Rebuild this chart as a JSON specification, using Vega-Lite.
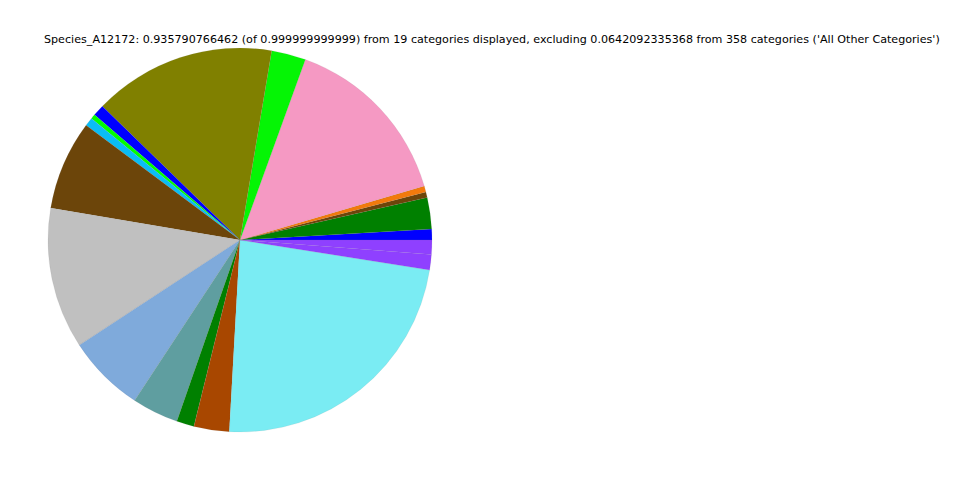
{
  "$schema": "https://vega.github.io/schema/vega-lite/v6.json",
  "width": 480,
  "height": 480,
  "autosize": {"type": "none"},
  "padding": {"left": 0, "top": 0, "right": 480, "bottom": 0},
  "background": "white",
  "title": {
    "text": "Species_A12172: 0.935790766462 (of 0.999999999999) from 19 categories displayed, excluding 0.0642092335368 from 358 categories ('All Other Categories')",
    "anchor": "start",
    "dx": 44,
    "offset": -56,
    "baseline": "bottom",
    "font": "DejaVu Sans",
    "fontSize": 11.13,
    "fontWeight": "normal",
    "color": "black"
  },
  "data": {
    "values": [
      {"idx": 1, "cat": "c01", "value": 0.00858},
      {"idx": 2, "cat": "c02", "value": 0.02469},
      {"idx": 3, "cat": "c03", "value": 0.00442},
      {"idx": 4, "cat": "c04", "value": 0.00468},
      {"idx": 5, "cat": "c05", "value": 0.13985},
      {"idx": 6, "cat": "c06", "value": 0.02703},
      {"idx": 7, "cat": "c07", "value": 0.14375},
      {"idx": 8, "cat": "c08", "value": 0.00910},
      {"idx": 9, "cat": "c09", "value": 0.00364},
      {"idx": 10, "cat": "c10", "value": 0.00676},
      {"idx": 11, "cat": "c11", "value": 0.07044},
      {"idx": 12, "cat": "c12", "value": 0.11125},
      {"idx": 13, "cat": "c13", "value": 0.06109},
      {"idx": 14, "cat": "c14", "value": 0.03665},
      {"idx": 15, "cat": "c15", "value": 0.01378},
      {"idx": 16, "cat": "c16", "value": 0.02781},
      {"idx": 17, "cat": "c17", "value": 0.21887},
      {"idx": 18, "cat": "c18", "value": 0.01222},
      {"idx": 19, "cat": "c19", "value": 0.01118}
    ]
  },
  "mark": {"type": "arc", "outerRadius": 192, "stroke": "#7a7a7a", "strokeWidth": 0.25, "strokeOpacity": 0.4},
  "encoding": {
    "theta": {"field": "value", "type": "quantitative", "stack": true, "scale": {"range": [1.5708, -4.7124]}},
    "order": {"field": "idx", "type": "quantitative"},
    "color": {
      "field": "cat",
      "type": "nominal",
      "legend": null,
      "scale": {
        "domain": ["c01","c02","c03","c04","c05","c06","c07","c08","c09","c10","c11","c12","c13","c14","c15","c16","c17","c18","c19"],
        "range": ["#0000ff","#008000","#6c450a","#f27a0c","#f599c3","#05f505","#808000","#0000ff","#00ff00","#0abdf5","#6c450a","#c0c0c0","#7faadb","#5f9ea0","#008000","#a84700","#7aecf3","#8f40ff","#8f40ff"]
      }
    }
  }
}
